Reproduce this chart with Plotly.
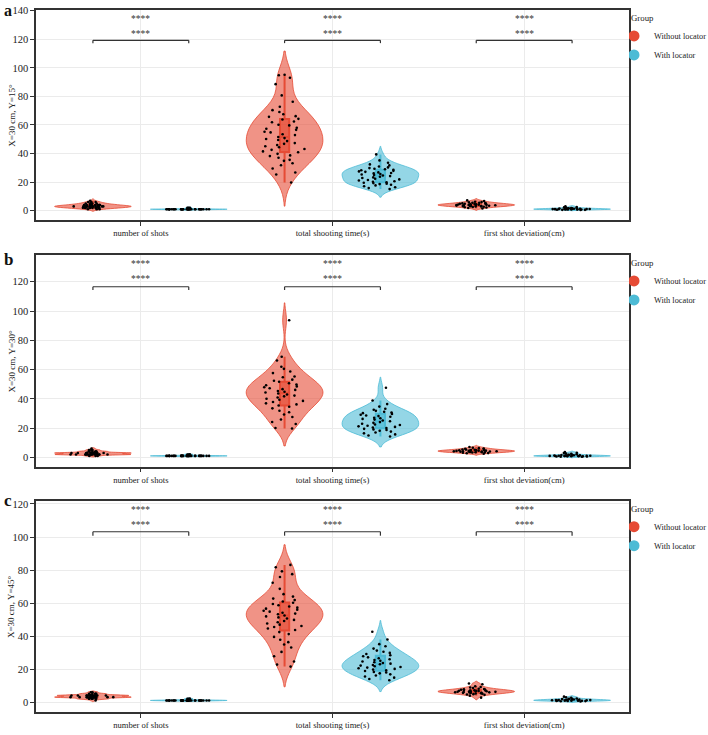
import plotly.graph_objects as go

# ---------------- data ----------------
categories = ["number of shots", "total shooting time(s)", "first shot deviation(cm)"]
group_names = ["Without locator", "With locator"]
panel_letters = ["a", "b", "c"]
panel_ytitles = ["X=30 cm, Y=15°", "X=30 cm, Y=30°", "X=30 cm, Y=45°"]
y_tick_values = [[0, 20, 40, 60, 80, 100, 120, 140],
                 [0, 20, 40, 60, 80, 100, 120],
                 [0, 20, 40, 60, 80, 100, 120]]
sig_upper = ["****", "****", "****"]
sig_lower = ["****", "****", "****"]

# panel a  (Y = 15°)
shots_a_without = [3, 2, 4, 3, 5, 2, 3, 4, 1, 3, 6, 2, 4, 3, 3, 5, 2, 4, 7, 3, 2, 3, 4, 5, 3,
                   1, 2, 4, 3, 6, 3, 2, 4, 5, 3, 2, 3, 4, 3, 2, 5, 3, 4, 2, 3, 1, 4, 3, 6, 2]
shots_a_with = [1, 1, 1, 2, 1, 1, 1, 1, 1, 1, 1, 1, 2, 1, 1, 1, 1, 1, 1, 1, 1, 1, 1, 1, 1,
                1, 2, 1, 1, 1, 1, 1, 1, 1, 1, 1, 1, 1, 1, 1]
time_a_without = [94.8, 93.1, 95.2, 88.6, 80.7, 76.3, 72.8, 70.4, 69.1, 67.5, 66.2, 65.7, 64.3,
                  63.8, 62.4, 61.9, 60.2, 59.7, 58.1, 57.4, 56.6, 55.3, 54.8, 53.5, 52.9, 51.6,
                  50.8, 50.2, 49.5, 48.7, 47.3, 46.8, 45.9, 45.1, 44.4, 43.2, 42.6, 41.5, 40.9,
                  39.8, 38.7, 38.2, 37.1, 35.6, 34.9, 33.2, 31.8, 29.5, 26.7, 25.3, 19.7]
time_a_with = [39.4, 35.2, 33.6, 32.4, 31.7, 30.9, 30.3, 29.8, 29.4, 29.0, 28.7, 28.3, 27.9,
               27.5, 27.2, 26.8, 26.4, 26.1, 25.7, 25.3, 25.0, 24.6, 24.2, 23.8, 23.3, 22.9,
               22.4, 21.9, 21.5, 21.1, 20.6, 20.2, 19.9, 19.6, 19.3, 18.9, 18.6, 18.2, 17.7,
               17.1, 16.4, 15.8, 15.1]
dev_a_without = [4.2, 3.1, 5.6, 2.8, 4.9, 3.7, 6.3, 2.2, 4.5, 3.9, 5.1, 4.0, 3.3, 7.2, 4.7,
                 2.6, 3.5, 5.8, 4.3, 3.0, 4.8, 1.9, 3.6, 5.3, 4.1, 2.9, 6.8, 3.8, 4.4, 5.0,
                 3.2, 4.6, 2.4, 3.4, 5.5, 4.0, 6.0, 3.9, 4.2, 1.5]
dev_a_with = [1.2, 0.8, 1.5, 0.6, 1.9, 1.1, 0.9, 2.3, 1.4, 0.7, 1.0, 1.6, 1.3, 0.5, 2.0, 1.2,
              0.9, 1.7, 1.1, 0.8, 1.4, 2.6, 1.0, 1.3, 0.6, 1.8, 1.5, 0.9, 1.2, 1.0, 3.1, 1.1]

# panel b  (Y = 30°)
shots_b_without = [2, 3, 2, 4, 3, 2, 1, 3, 5, 2, 3, 2, 4, 3, 2, 3, 1, 2, 4, 3, 2, 5, 3, 2, 3,
                   4, 2, 3, 1, 2, 3, 6, 2, 3, 4, 2, 3, 2, 3, 4, 2, 3, 5, 2, 3]
shots_b_with = [1, 1, 1, 1, 1, 2, 1, 1, 1, 1, 1, 1, 1, 1, 2, 1, 1, 1, 1, 1, 1, 1, 1, 1, 1,
                2, 1, 1, 1, 1, 1, 1, 2, 1, 1, 1, 1, 1, 1, 1]
time_b_without = [93.7, 68.8, 66.2, 61.9, 60.5, 58.7, 57.6, 55.3, 54.8, 53.1, 52.4, 51.7, 50.6,
                  49.8, 49.3, 48.5, 47.9, 47.2, 46.6, 46.1, 45.4, 44.8, 44.3, 43.6, 43.0, 42.2,
                  41.7, 40.9, 40.1, 39.4, 38.6, 37.8, 36.9, 36.2, 35.4, 34.6, 33.5, 31.9, 30.8,
                  29.3, 27.6, 25.9, 24.2, 22.8, 20.1, 19.7]
time_b_with = [47.6, 38.9, 36.4, 34.7, 33.2, 32.5, 31.8, 31.1, 30.6, 30.2, 29.7, 29.1, 28.6,
               28.2, 27.8, 27.1, 26.7, 26.3, 25.8, 25.2, 24.7, 24.1, 23.6, 23.0, 22.5, 22.1,
               21.6, 21.2, 20.8, 20.4, 20.0, 19.5, 19.1, 18.7, 18.2, 17.6, 17.0, 16.4, 15.7,
               14.9, 14.3]
dev_b_without = [4.6, 3.8, 5.2, 4.1, 6.3, 3.4, 4.9, 5.7, 2.9, 4.4, 3.6, 5.0, 4.2, 7.1, 3.9,
                 4.7, 5.4, 2.5, 4.0, 3.3, 4.8, 6.0, 4.3, 3.7, 5.1, 4.5, 3.1, 5.9, 4.1, 4.6,
                 2.8, 3.5, 5.3, 4.4, 6.6, 3.9]
dev_b_with = [0.9, 1.3, 0.6, 1.8, 1.1, 2.4, 0.8, 1.5, 0.4, 1.2, 3.6, 1.0, 0.7, 2.9, 1.4, 0.9,
              1.7, 0.5, 1.1, 2.1, 0.8, 1.3, 3.2, 1.0, 0.6, 1.6, 1.2, 0.9, 2.6, 1.4, 0.7, 1.0]

# panel c  (Y = 45°)
shots_c_without = [4, 3, 3, 4, 5, 2, 3, 4, 3, 6, 4, 3, 2, 4, 5, 3, 4, 3, 1, 4, 3, 5, 2, 4, 3,
                   4, 3, 6, 2, 4, 3, 5, 4, 3, 2, 4, 3, 4, 5, 3, 2, 4, 3]
shots_c_with = [1, 1, 1, 1, 2, 1, 1, 1, 1, 1, 1, 1, 1, 1, 1, 2, 1, 1, 1, 1, 1, 1, 1, 1, 2,
                1, 1, 1, 1, 1, 1, 1, 1, 1, 1, 2, 1, 1, 1, 1]
time_c_without = [83.1, 81.7, 79.2, 77.5, 75.8, 72.3, 68.6, 65.4, 63.9, 62.7, 61.8, 60.9, 60.2,
                  59.4, 58.7, 57.9, 57.2, 56.6, 55.9, 55.3, 54.8, 54.1, 53.6, 53.2, 52.5, 51.9,
                  51.3, 50.6, 49.8, 49.1, 48.4, 47.6, 46.9, 46.1, 45.5, 44.6, 43.7, 42.4, 41.2,
                  39.5, 37.8, 36.3, 34.9, 33.1, 30.4, 27.8, 24.6, 22.7, 21.5]
time_c_with = [42.6, 37.9, 35.1, 33.8, 32.4, 31.2, 30.5, 29.8, 29.1, 28.4, 27.8, 27.1, 26.6,
               26.0, 25.5, 25.0, 24.6, 24.1, 23.7, 23.3, 22.9, 22.5, 22.1, 21.7, 21.3, 20.9,
               20.5, 20.1, 19.7, 19.2, 18.8, 18.3, 17.9, 17.4, 16.8, 16.1, 15.5, 14.8, 14.0,
               13.2]
dev_c_without = [6.8, 5.9, 7.4, 6.2, 8.5, 5.3, 7.0, 6.5, 4.8, 9.6, 6.1, 7.8, 5.6, 6.9, 3.9,
                 7.2, 6.4, 8.1, 5.1, 6.7, 10.8, 5.8, 7.5, 6.0, 4.4, 7.9, 6.6, 5.5, 8.8, 6.3,
                 2.7, 7.1, 5.2, 6.9, 9.1, 5.7, 7.6, 4.6, 6.2, 11.3]
dev_c_with = [1.1, 0.7, 1.6, 2.2, 0.9, 1.3, 0.5, 1.8, 1.0, 3.3, 1.4, 0.8, 1.2, 2.6, 0.6, 1.5,
              1.1, 0.9, 2.0, 1.3, 0.4, 1.7, 1.0, 2.9, 1.2, 0.8, 1.4, 1.9, 0.7, 1.1]

panels = [
    [[shots_a_without, time_a_without, dev_a_without], [shots_a_with, time_a_with, dev_a_with]],
    [[shots_b_without, time_b_without, dev_b_without], [shots_b_with, time_b_with, dev_b_with]],
    [[shots_c_without, time_c_without, dev_c_without], [shots_c_with, time_c_with, dev_c_with]],
]

# ---------------- style / layout settings ----------------
FONT = "Liberation Serif, Times New Roman, serif"
TEXT = "#222222"
line_colors = ["#E64B35", "#4DBBD5"]
violin_fills = ["rgba(230,75,53,0.6)", "rgba(77,187,213,0.6)"]
box_fills = ["rgba(230,75,53,0.7)", "rgba(77,187,213,0.7)"]
y_domains = [[0.7009, 1.0], [0.3494, 0.651], [0.0, 0.301]]
y_ranges = [[-6.5, 140.5], [-6.4, 138.3], [-6.0, 122.0]]
bracket_y = [119.3, 116.6, 103.2]
bracket_drop = [2.0, 2.2, 2.4]
label_lower_y = [123.8, 121.8, 107.4]
label_upper_y = [134.2, 132.0, 116.5]
letter_y = [0.9845, 0.6275, 0.2855]
letter_size = [16, 17, 17]
ytitle_x = -0.041

fig = go.Figure()

for p, panel in enumerate(panels):
    sfx = "" if p == 0 else str(p + 1)
    xa, ya = "x" + sfx, "y" + sfx
    for g, series in enumerate(panel):
        for c, vals in enumerate(series):
            degenerate = c == 0 and g == 1
            fig.add_trace(go.Violin(
                x=[categories[c]] * len(vals), y=vals,
                xaxis=xa, yaxis=ya,
                name=group_names[g], showlegend=False,
                offsetgroup=group_names[g], alignmentgroup="grp",
                scalemode="width", scalegroup=f"s{p}{g}{c}",
                bandwidth=0.25 if degenerate else None,
                fillcolor=violin_fills[g],
                line=dict(color=line_colors[g], width=0.8),
                box=dict(visible=True, width=0.12, fillcolor=box_fills[g],
                         line=dict(color=line_colors[g], width=2)),
                meanline=dict(visible=False),
                points="all", jitter=0.6, pointpos=0,
                marker=dict(color="black", size=2.6),
                hoverinfo="skip",
            ))
    # legend entries for this panel
    leg = "legend" + sfx
    for g in range(2):
        fig.add_trace(go.Scatter(
            x=[None], y=[None], xaxis=xa, yaxis=ya, mode="markers",
            marker=dict(size=11, color=line_colors[g]),
            name=group_names[g], legend=leg, showlegend=True, hoverinfo="skip",
        ))

layout = dict(
    width=708, height=735,
    margin=dict(l=36, r=79, t=10, b=23, autoexpand=False),
    paper_bgcolor="white", plot_bgcolor="white",
    font=dict(family=FONT, color=TEXT, size=9),
    violinmode="group", violingap=0.0, violingroupgap=0.2,
    shapes=[], annotations=[],
)

for p in range(3):
    sfx = "" if p == 0 else str(p + 1)
    layout["xaxis" + sfx] = dict(
        domain=[0, 1], anchor="y" + sfx, automargin=False,
        type="category", categoryorder="array", categoryarray=categories,
        range=[-0.547, 2.547],
        showgrid=True, gridcolor="#EBEBEB", gridwidth=1,
        showline=True, linecolor="#333333", linewidth=1.5, mirror=True,
        ticks="outside", ticklen=4, tickcolor="#333333",
        tickfont=dict(size=8.6, family=FONT, color=TEXT),
        zeroline=False,
    )
    layout["yaxis" + sfx] = dict(
        domain=y_domains[p], anchor="x" + sfx, automargin=False,
        range=y_ranges[p], tickvals=y_tick_values[p],
        showgrid=True, gridcolor="#EBEBEB", gridwidth=1,
        showline=True, linecolor="#333333", linewidth=1.5, mirror=True,
        ticks="outside", ticklen=4, tickcolor="#333333",
        tickfont=dict(size=10.5, family=FONT, color=TEXT),
        zeroline=False,
    )
    layout["legend" + sfx] = dict(
        x=1.0, xanchor="left", y=y_domains[p][1], yanchor="top",
        title=dict(text="Group", font=dict(size=8.8, family=FONT, color=TEXT)),
        font=dict(size=8.3, family=FONT, color=TEXT),
        bgcolor="rgba(0,0,0,0)", tracegroupgap=0, itemsizing="trace",
        indentation=-15,
    )
    xr, yr = "x" + sfx, "y" + sfx
    for c in range(3):
        xl, xrgt = c - 0.25, c + 0.25
        yb, yt = bracket_y[p] - bracket_drop[p], bracket_y[p]
        for (x0, y0, x1, y1) in [(xl, yb, xl, yt), (xl, yt, xrgt, yt), (xrgt, yt, xrgt, yb)]:
            layout["shapes"].append(dict(type="line", xref=xr, yref=yr,
                                         x0=x0, y0=y0, x1=x1, y1=y1,
                                         line=dict(color="#333333", width=1.2)))
        layout["annotations"].append(dict(x=c, y=label_lower_y[p], xref=xr, yref=yr,
                                          text=sig_lower[c], showarrow=False,
                                          font=dict(size=9.5, family=FONT, color="#333333")))
        layout["annotations"].append(dict(x=c, y=label_upper_y[p], xref=xr, yref=yr,
                                          text=sig_upper[c], showarrow=False,
                                          font=dict(size=9.5, family=FONT, color="#333333")))
    # panel letter
    layout["annotations"].append(dict(x=-0.0573, y=letter_y[p], xref="paper", yref="paper",
                                      xanchor="left", yanchor="bottom",
                                      text="<b>" + panel_letters[p] + "</b>", showarrow=False,
                                      font=dict(size=letter_size[p], family=FONT, color="#111111")))
    # y-axis title
    layout["annotations"].append(dict(x=ytitle_x, y=sum(y_domains[p]) / 2,
                                      xref="paper", yref="paper",
                                      xanchor="center", yanchor="middle", textangle=-90,
                                      text=panel_ytitles[p], showarrow=False,
                                      font=dict(size=9, family=FONT, color=TEXT)))

fig.update_layout(**layout)
fig.write_html("out.html", config={"displayModeBar": False},
               post_script="document.body.style.margin='0px';")
